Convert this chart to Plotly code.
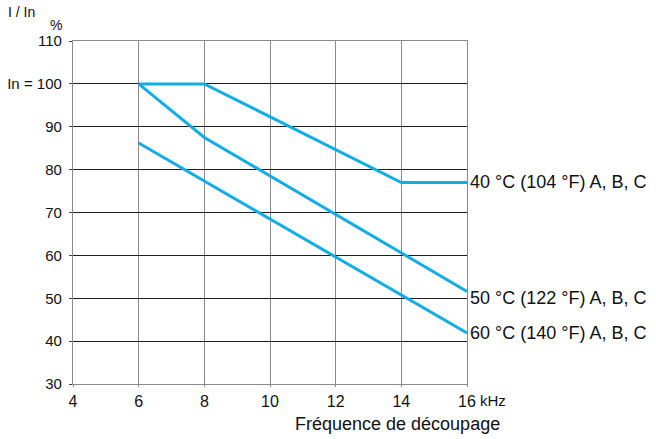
import plotly.graph_objects as go

# Derating curves: output current (% of In) vs switching frequency (kHz)
freq_40 = [6, 8, 14, 16]
curr_40 = [100, 100, 77, 77]
freq_50 = [6, 8, 16]
curr_50 = [100, 87.5, 51.6]
freq_60 = [6, 16]
curr_60 = [86.2, 41.9]

labels = ["40 °C (104 °F) A, B, C", "50 °C (122 °F) A, B, C", "60 °C (140 °F) A, B, C"]
label_yshift = [0, -7, 0]

y_ticks = [30, 40, 50, 60, 70, 80, 90, 100, 110]
y_ticktext = ["30", "40", "50", "60", "70", "80", "90", "In = 100", "110"]
x_ticks = [4, 6, 8, 10, 12, 14, 16]

FONT = "Liberation Sans, Arial, sans-serif"
BLUE = "#12ADE6"
TXT = "#111111"

W, H = 656, 439
L, R, T, B = 73, 189, 41, 55
pw, ph = W - L - R, H - T - B


def px_to_paper(xp, yp):
    """Pixel position in the page -> paper coordinates of the plot area."""
    return (xp - L) / pw, (H - B - yp) / ph


fig = go.Figure()
series = [(freq_40, curr_40), (freq_50, curr_50), (freq_60, curr_60)]
for xs, ys in series:
    fig.add_trace(go.Scatter(x=xs, y=ys, mode="lines",
                             line=dict(color=BLUE, width=3),
                             showlegend=False, hoverinfo="skip"))

annotations = []
for (xs, ys), txt, dy in zip(series, labels, label_yshift):
    annotations.append(dict(x=xs[-1], y=ys[-1], xref="x", yref="y", text=txt,
                            showarrow=False, xanchor="left", yanchor="middle",
                            xshift=1, yshift=dy,
                            font=dict(size=18, color=TXT, family=FONT)))

annotations.append(dict(x=16, y=30, xref="x", yref="y", text="kHz",
                        showarrow=False, xanchor="left", yanchor="middle",
                        xshift=11, yshift=-16,
                        font=dict(size=15, color=TXT, family=FONT)))

for text, (xp, yp), size, anchor in [
    ("Fréquence de découpage", (397, 424), 18, "center"),
    ("I / In", (6, 12), 14, "left"),
    ("%", (56, 25), 14, "center"),
]:
    px, py = px_to_paper(xp, yp)
    annotations.append(dict(x=px, y=py, xref="paper", yref="paper", text=text,
                            showarrow=False, xanchor=anchor, yanchor="middle",
                            font=dict(size=size, color=TXT, family=FONT)))

fig.update_layout(
    width=W, height=H,
    margin=dict(l=L, r=R, t=T, b=B),
    paper_bgcolor="white", plot_bgcolor="white",
    font=dict(family=FONT, size=15, color=TXT),
    annotations=annotations,
    xaxis=dict(range=[4, 16], tickvals=x_ticks, showgrid=True, automargin=False,
               gridcolor="#8a8a8a", gridwidth=1.3, zeroline=False,
               showline=True, linecolor="#8a8a8a", linewidth=1.3, mirror=True,
               ticks="outside", ticklen=2, tickcolor="#8a8a8a",
               tickfont=dict(size=16, color=TXT), ticklabelstandoff=1),
    yaxis=dict(range=[30, 110], tickvals=y_ticks, ticktext=y_ticktext,
               showgrid=True, automargin=False,
               gridcolor="#1e1e1e", gridwidth=1.2, zeroline=False,
               showline=True, linecolor="#8a8a8a", linewidth=1.3, mirror=True,
               ticks="outside", ticklen=3, tickcolor="#444444",
               tickfont=dict(size=15, color=TXT), ticklabelstandoff=4),
)

fig.write_html("out.html")
